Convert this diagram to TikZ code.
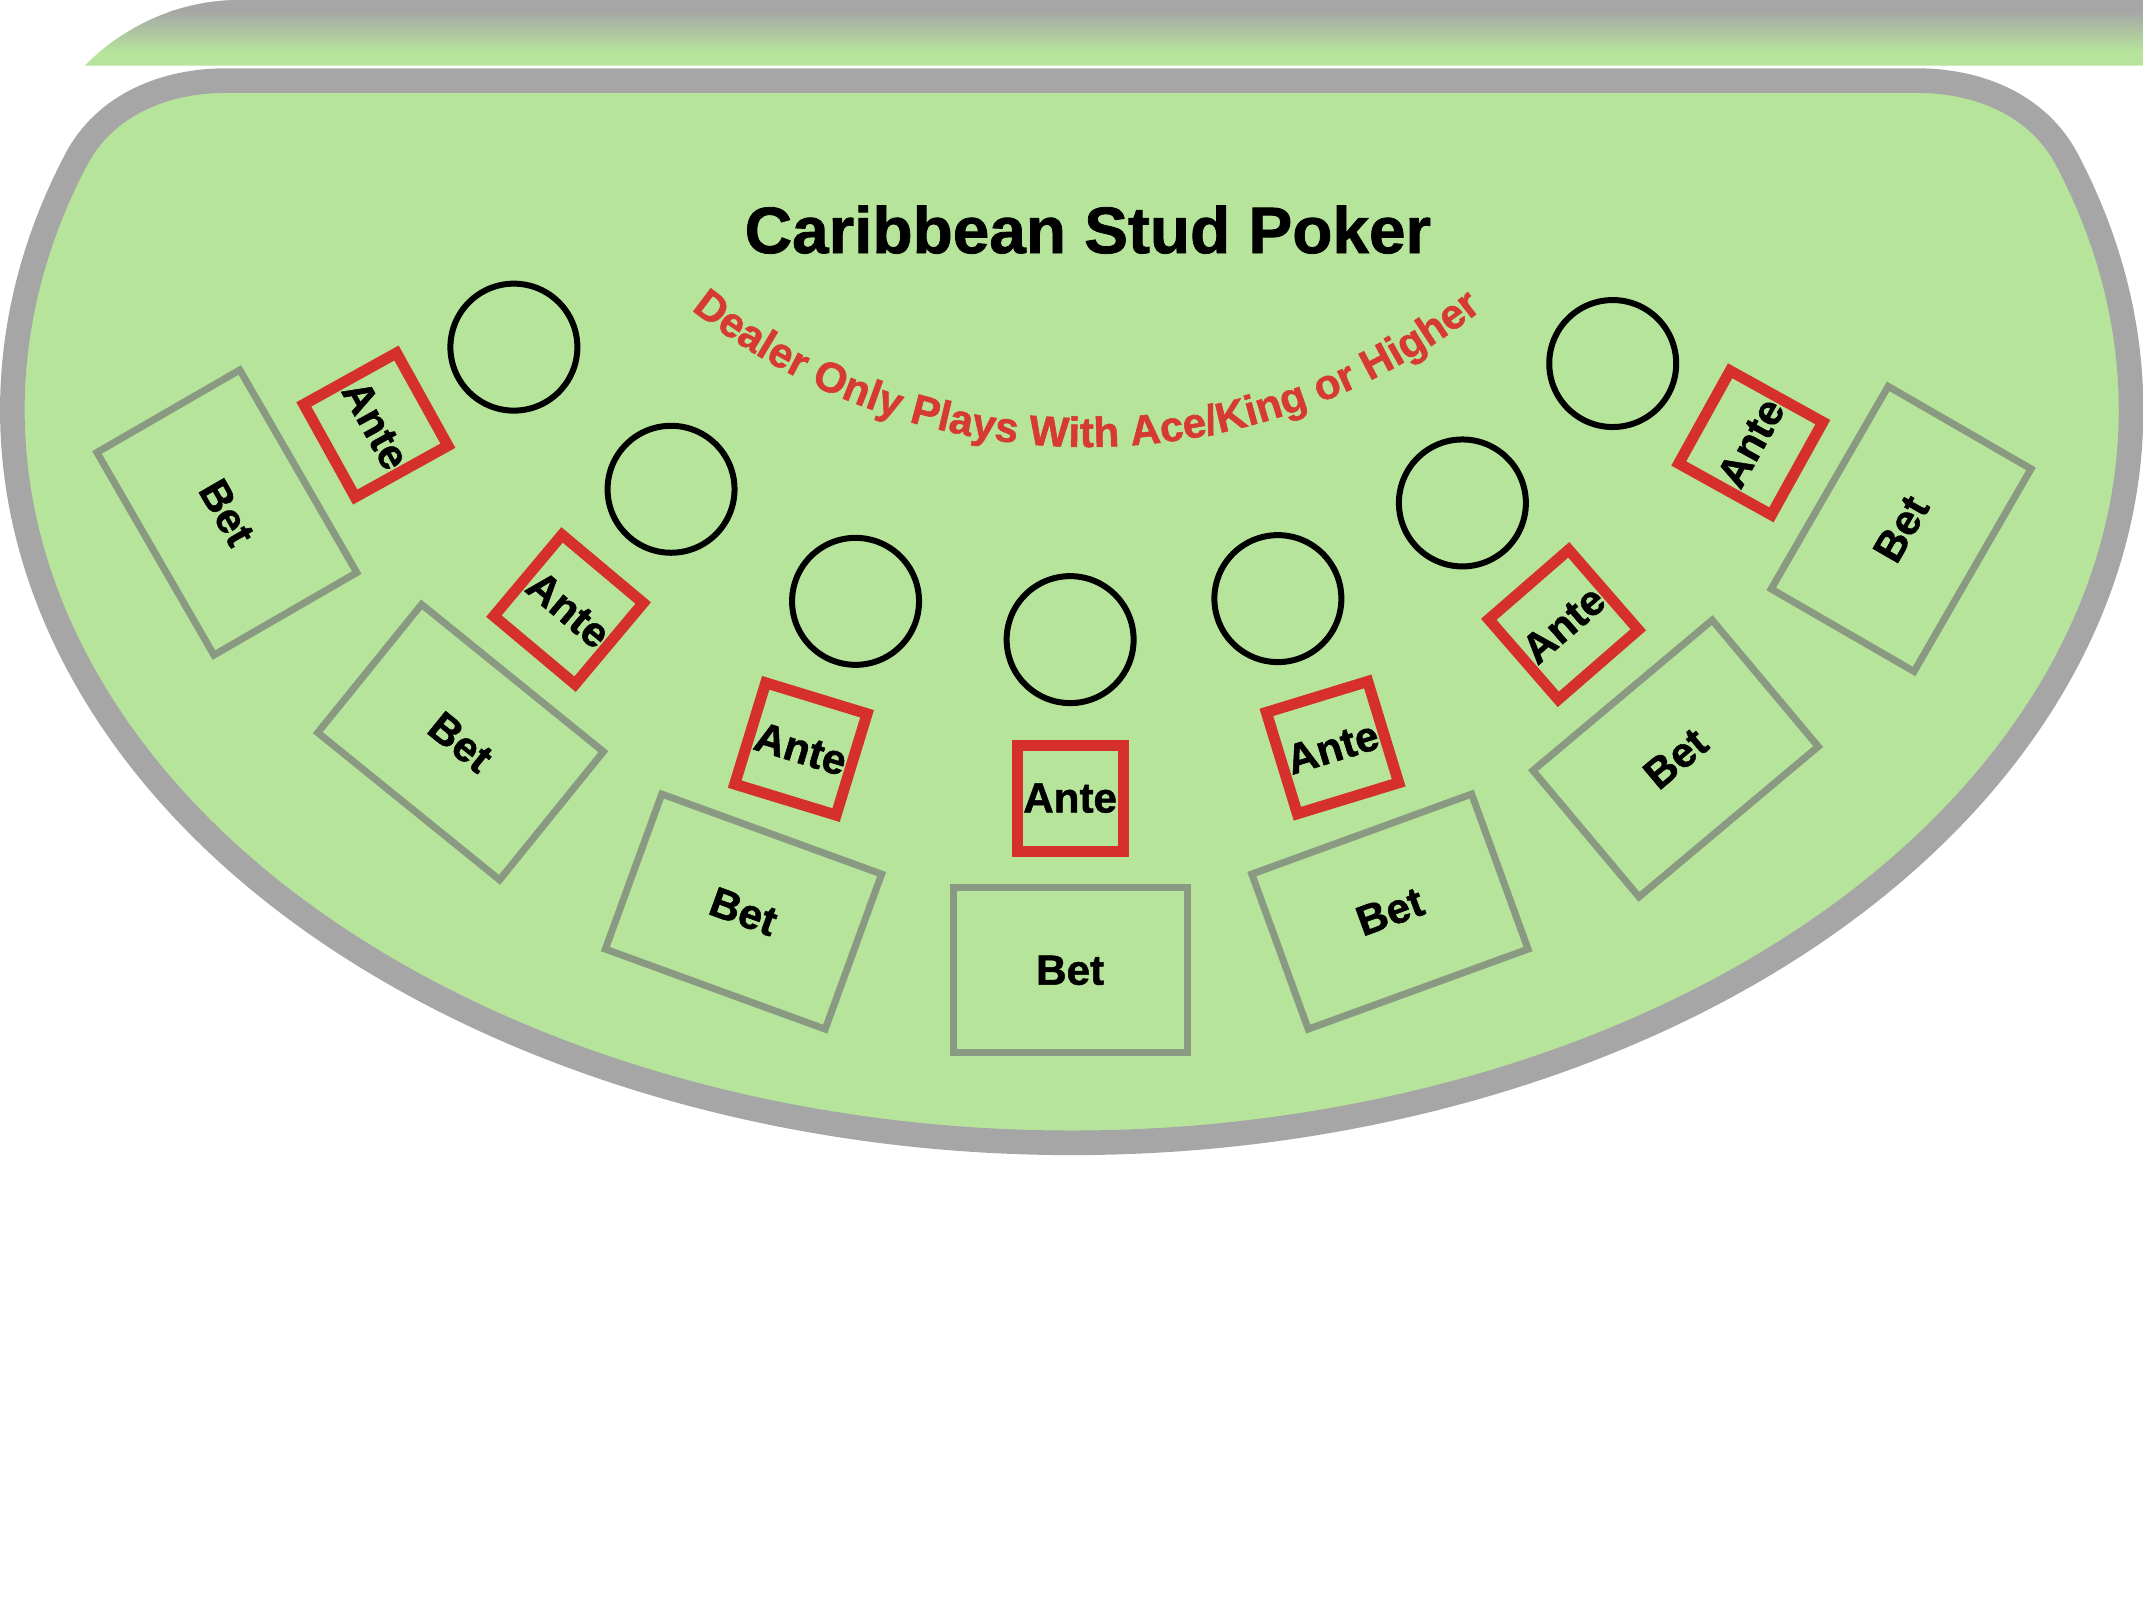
\documentclass[tikz,border=0pt]{standalone}
\usepackage{fontspec}
\setmainfont{Liberation Sans}[BoldFeatures={FakeBold=1.2}]
\usetikzlibrary{decorations.text}

\definecolor{felt}{RGB}{182,228,155}
\definecolor{rim}{RGB}{166,166,166}
\definecolor{betline}{RGB}{138,154,130}
\definecolor{anteline}{RGB}{214,48,44}
\definecolor{dealertext}{RGB}{214,58,50}

\begin{document}
\begin{tikzpicture}[x=0.1367mm, y=-0.1367mm, thick,
    spot/.style={circle, draw, line width=0.6mm, minimum size=12.7mm, inner sep=0},
    ante/.style={rectangle, draw=anteline, line width=1.1mm, minimum size=10.6mm, inner sep=0, font=\fontsize{12}{14}\selectfont\bfseries},
    bet/.style={rectangle, draw=betline, line width=0.7mm, minimum width=23.4mm, minimum height=16.5mm, inner sep=0, font=\fontsize{12}{14}\selectfont\bfseries}]

            \useasboundingbox (0,0) rectangle (1568,1176);

            % rail seen behind the table
            \begin{scope}
                \clip (175,0) -- (1568,0) -- (1568,48) -- (62,48) .. controls (90,20) and (130,0) .. (175,0);
                \fill[felt] (0,0) rectangle (1568,48);
                \shade[top color=rim, bottom color=felt] (0,8) rectangle (1568,38);
                \fill[rim] (0,0) rectangle (1568,8.5);
            \end{scope}

            % table
            \draw[rim, line width=2.46mm, fill=felt] (165,59) -- (1403,59)
                .. controls (1448,59) and (1491.3,76.9) .. (1512.3,116.7)
                arc[start angle=-20, end angle=200, x radius=775, y radius=536]
                .. controls (76.7,76.9) and (120,59) .. cycle;

            \node[font=\fontsize{18.7}{22}\selectfont\bfseries] (title) at (796,168) {Caribbean Stud Poker};

            \path[decorate, decoration={text along path, text align=center, text color=dealertext,
                text={|\fontsize{12}{14}\selectfont\bfseries|Dealer Only Plays With Ace/King or Higher}}]
                (437.3,160.2) arc[start angle=140, end angle=40, radius=467];

            \node[spot] (spot1) at (376,254) {};
            \node[spot] (spot2) at (491,358) {};
            \node[spot] (spot3) at (626,440) {};
            \node[spot] (spot4) at (783,468) {};
            \node[spot] (spot5) at (935,438) {};
            \node[spot] (spot6) at (1070,368) {};
            \node[spot] (spot7) at (1180,266) {};

            \node[ante, rotate=-61] (ante1) at (275,311) {Ante};
            \node[ante, rotate=-40] (ante2) at (416,446) {Ante};
            \node[ante, rotate=-17] (ante3) at (586,548) {Ante};
            \node[ante] (ante4) at (783,584) {Ante};
            \node[ante, rotate=17] (ante5) at (975,547) {Ante};
            \node[ante, rotate=41] (ante6) at (1144,457) {Ante};
            \node[ante, rotate=61] (ante7) at (1281,324) {Ante};

            \node[bet, rotate=-60] (bet1) at (166,375) {Bet};
            \node[bet, rotate=-39] (bet2) at (337,543) {Bet};
            \node[bet, rotate=-20] (bet3) at (544,667) {Bet};
            \node[bet] (bet4) at (783,710) {Bet};
            \node[bet, rotate=20] (bet5) at (1017,667) {Bet};
            \node[bet, rotate=40] (bet6) at (1226,555) {Bet};
            \node[bet, rotate=60] (bet7) at (1391,387) {Bet};
        \end{tikzpicture}
\end{document}
